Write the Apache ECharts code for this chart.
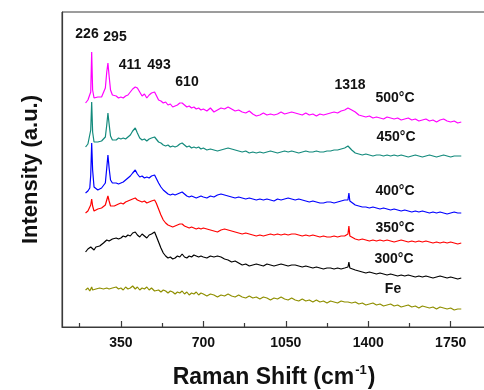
<!DOCTYPE html>
<html>
<head>
<meta charset="utf-8">
<script src="https://cdn.jsdelivr.net/npm/echarts@6/dist/echarts.min.js"></script>
<style>
  html, body { margin: 0; padding: 0; background: #fff; }
  #chart { width: 484px; height: 390px; }
</style>
</head>
<body>
<div id="chart"></div>
<script>
// Raman shift sample positions (cm^-1)
const shift = [
  200,210,218,222,226,230,236,244,252,260,268,276,284,290,295,300,306,314,322,330,340,
  350,360,370,380,390,400,411,420,430,440,450,460,470,480,493,500,510,520,530,540,550,560,570,580,590,600,610,620,630,640,650,660,670,680,690,700,
  715,730,745,760,775,790,805,820,835,850,865,880,895,910,925,940,955,970,985,1000,1015,1030,1045,1060,1075,1090,1105,1120,1135,1150,1165,1180,1195,1210,1225,1240,1255,1270,1285,1300,
  1308,1314,1318,1322,
  1330,1345,1360,1375,1390,1405,1420,1435,1450,1465,1480,1495,1510,1525,1540,1555,1570,1585,1600,1615,1630,1645,1660,1675,1690,1705,1720,1735,1750,1765,1780,1795
];

// Stacked intensities (a.u.), one array per annealing temperature
const i500 = [
  224,227,228,235,275,237,229,228,230,229,230,232,239,255,264,251,237,232,230,231,229,
  230,229,231,232,235,238,240,239,235,231,233,229,232,234,235,234,227,226,224,225,222,223,220,221,222,224,224,222,220,221,219,220,218,219,217,218,
  216,219,215,217,219,218,220,218,216,217,215,214,216,213,211,212,214,212,213,212,213,215,213,214,215,214,213,212,214,212,213,211,213,212,213,214,215,214,216,217,
  218,219,218,219,
  217,215,212,211,210,211,209,210,209,208,210,209,208,209,207,208,209,207,208,206,207,208,206,207,205,207,208,206,205,206,204,205
];
const i450 = [
  180,183,184,197,225,195,185,183,185,184,186,187,190,202,214,203,191,187,188,187,189,
  188,189,188,190,192,196,199,194,189,187,188,186,188,189,190,189,185,184,182,181,182,180,181,180,181,183,184,182,180,181,179,180,179,180,178,179,
  177,178,177,176,177,178,179,178,177,176,175,176,174,175,174,175,174,175,176,175,174,175,176,175,176,175,174,175,176,175,175,176,175,175,176,176,177,177,178,179,
  180,181,180,179,
  177,174,173,172,173,172,171,172,172,171,172,171,172,171,172,171,170,171,172,171,170,171,172,171,170,171,172,171,170,171,171,171
];
const i400 = [
  134,136,139,152,184,157,140,138,137,138,139,140,144,159,172,159,147,144,143,144,143,
  144,145,147,149,151,154,157,153,150,151,149,150,149,151,152,150,144,140,137,135,133,132,133,132,133,134,135,133,131,130,131,130,129,130,131,130,
  129,131,130,132,133,132,131,130,129,130,129,128,129,128,127,128,127,128,127,126,128,127,128,129,128,127,128,127,126,125,126,125,124,124,125,125,124,125,126,127,
  126,127,134,126,
  124,122,121,120,120,119,120,119,118,119,118,117,118,117,116,117,116,115,116,115,116,115,114,115,114,115,114,113,114,115,114,114
];
const i350 = [
  114,116,117,122,128,121,116,117,118,117,119,120,122,127,131,126,121,120,121,122,123,
  124,123,125,126,127,128,129,127,126,125,126,124,125,126,127,124,118,112,107,104,102,101,100,101,102,103,103,101,100,99,100,99,98,99,98,99,
  98,97,96,95,97,98,97,96,95,94,93,94,93,92,91,92,91,92,93,92,93,92,93,92,93,93,92,91,92,91,92,91,90,91,90,90,91,90,91,91,
  92,93,101,91,
  89,88,87,88,87,86,87,86,87,86,87,86,85,86,87,86,85,86,85,86,85,86,85,84,85,84,85,84,85,84,83,84
];
const i300 = [
  75,78,77,80,82,79,77,80,79,81,82,84,85,87,88,86,87,88,87,89,88,
  89,91,90,92,91,94,95,92,90,93,91,89,92,93,95,91,85,79,74,71,69,70,68,69,71,70,73,70,69,71,70,72,71,70,71,70,
  69,71,70,71,70,68,67,65,66,64,62,63,61,62,63,62,61,63,62,61,62,63,62,61,62,62,61,60,61,60,59,60,59,58,59,59,58,59,58,59,
  59,60,65,59,
  58,57,56,55,54,55,54,53,54,53,52,53,52,51,52,51,52,51,50,51,50,51,50,49,50,51,50,49,50,49,48,49
];
const iFe = [
  37,39,36,38,40,37,39,38,40,39,41,38,40,39,41,38,40,39,37,40,38,
  39,37,40,38,39,41,38,40,37,39,38,40,37,39,36,38,37,35,37,36,34,36,35,33,35,34,36,33,35,32,34,33,35,32,34,33,
  31,33,32,30,32,31,33,31,30,32,30,29,31,29,30,28,30,29,27,29,28,30,28,27,29,27,26,28,26,27,25,27,25,26,24,26,25,24,26,25,
  26,25,27,25,
  24,25,23,24,22,23,24,22,23,21,22,23,21,22,20,21,22,20,21,19,21,20,19,20,18,20,19,18,19,17,18,18
];

const seriesNames = ['500°C', '450°C', '400°C', '350°C', '300°C', 'Fe'];
const seriesValues = [i500, i450, i400, i350, i300, iFe];
const seriesColors = ['#ff00ff', '#138a7c', '#0000ff', '#ff0000', '#000000', '#8f8f00'];

// Axis tick positions and assigned peak labels
const majorTicks = [350, 700, 1050, 1400, 1750];
const minorTicks = [175, 525, 875, 1225, 1575];
const peakLabels = ['226', '295', '411', '493', '610', '1318'];

const FONT = '"Liberation Sans", Arial, Helvetica, sans-serif';
const AXIS_COLOR = '#3a3a3a';

const chart = echarts.init(document.getElementById('chart'), null, { renderer: 'canvas' });

const series = seriesNames.map((name, k) => ({
  name: name,
  type: 'line',
  xAxisIndex: 0,
  showSymbol: false,
  symbol: 'none',
  animation: false,
  lineStyle: { color: seriesColors[k], width: 1.2 },
  data: shift.map((x, i) => [x, seriesValues[k][i]])
}));

const labelStyle = { font: 'bold 14px ' + FONT, fill: '#111', textAlign: 'center', textVerticalAlign: 'middle' };
const peakPos = [[87, 34], [115, 37], [130, 65], [159, 65], [187, 82], [350, 85]];
const tempPos = [[395, 98], [396, 137], [395, 191], [395, 228], [394, 259], [393, 289]];

const graphics = [];
peakLabels.forEach((t, i) => graphics.push({
  type: 'text', x: peakPos[i][0], y: peakPos[i][1], silent: true,
  style: Object.assign({ text: t }, labelStyle)
}));
seriesNames.forEach((t, i) => graphics.push({
  type: 'text', x: tempPos[i][0], y: tempPos[i][1], silent: true,
  style: Object.assign({ text: t }, labelStyle)
}));

chart.setOption({
  animation: false,
  backgroundColor: '#fff',
  grid: {
    left: 62, top: 12, width: 424, height: 315,
    outerBoundsMode: 'none',
    show: true, borderColor: AXIS_COLOR, borderWidth: 1, backgroundColor: 'transparent'
  },
  xAxis: [{
    type: 'value', min: 100, max: 1900,
    position: 'bottom',
    name: '{t|Raman Shift (cm}{s|-1}{t|)}',
    nameLocation: 'middle', nameGap: 37,
    nameTextStyle: {
      rich: {
        t: { fontSize: 23, fontWeight: 'bold', fontFamily: FONT, color: '#111', lineHeight: 27 },
        s: { fontSize: 13, fontWeight: 'bold', fontFamily: FONT, color: '#111', verticalAlign: 'top', lineHeight: 27, padding: [0, 1, 10, 1] }
      }
    },
    axisLine: { show: true, onZero: false, lineStyle: { color: AXIS_COLOR, width: 1.2 } },
    axisTick: { show: true, inside: true, length: 6, customValues: majorTicks, lineStyle: { color: AXIS_COLOR, width: 1.2 } },
    axisLabel: {
      show: true, customValues: majorTicks, margin: 9,
      formatter: (v) => String(v),
      fontSize: 14, fontWeight: 'bold', fontFamily: FONT, color: '#111'
    },
    splitLine: { show: false }
  }, {
    type: 'value', min: 100, max: 1900,
    position: 'bottom',
    axisLine: { show: false },
    axisTick: { show: true, inside: true, length: 4, customValues: minorTicks, lineStyle: { color: AXIS_COLOR, width: 1.2 } },
    axisLabel: { show: false },
    splitLine: { show: false }
  }],
  yAxis: {
    type: 'value', min: 0, max: 315,
    name: 'Intensity (a.u.)',
    nameLocation: 'middle', nameGap: 20, nameRotate: 90,
    nameTextStyle: { fontSize: 22, fontWeight: 'bold', fontFamily: FONT, color: '#111' },
    axisLine: { show: true, lineStyle: { color: AXIS_COLOR, width: 1.2 } },
    axisTick: { show: false },
    axisLabel: { show: false },
    splitLine: { show: false }
  },
  series: series,
  graphic: graphics
});
</script>
</body>
</html>
